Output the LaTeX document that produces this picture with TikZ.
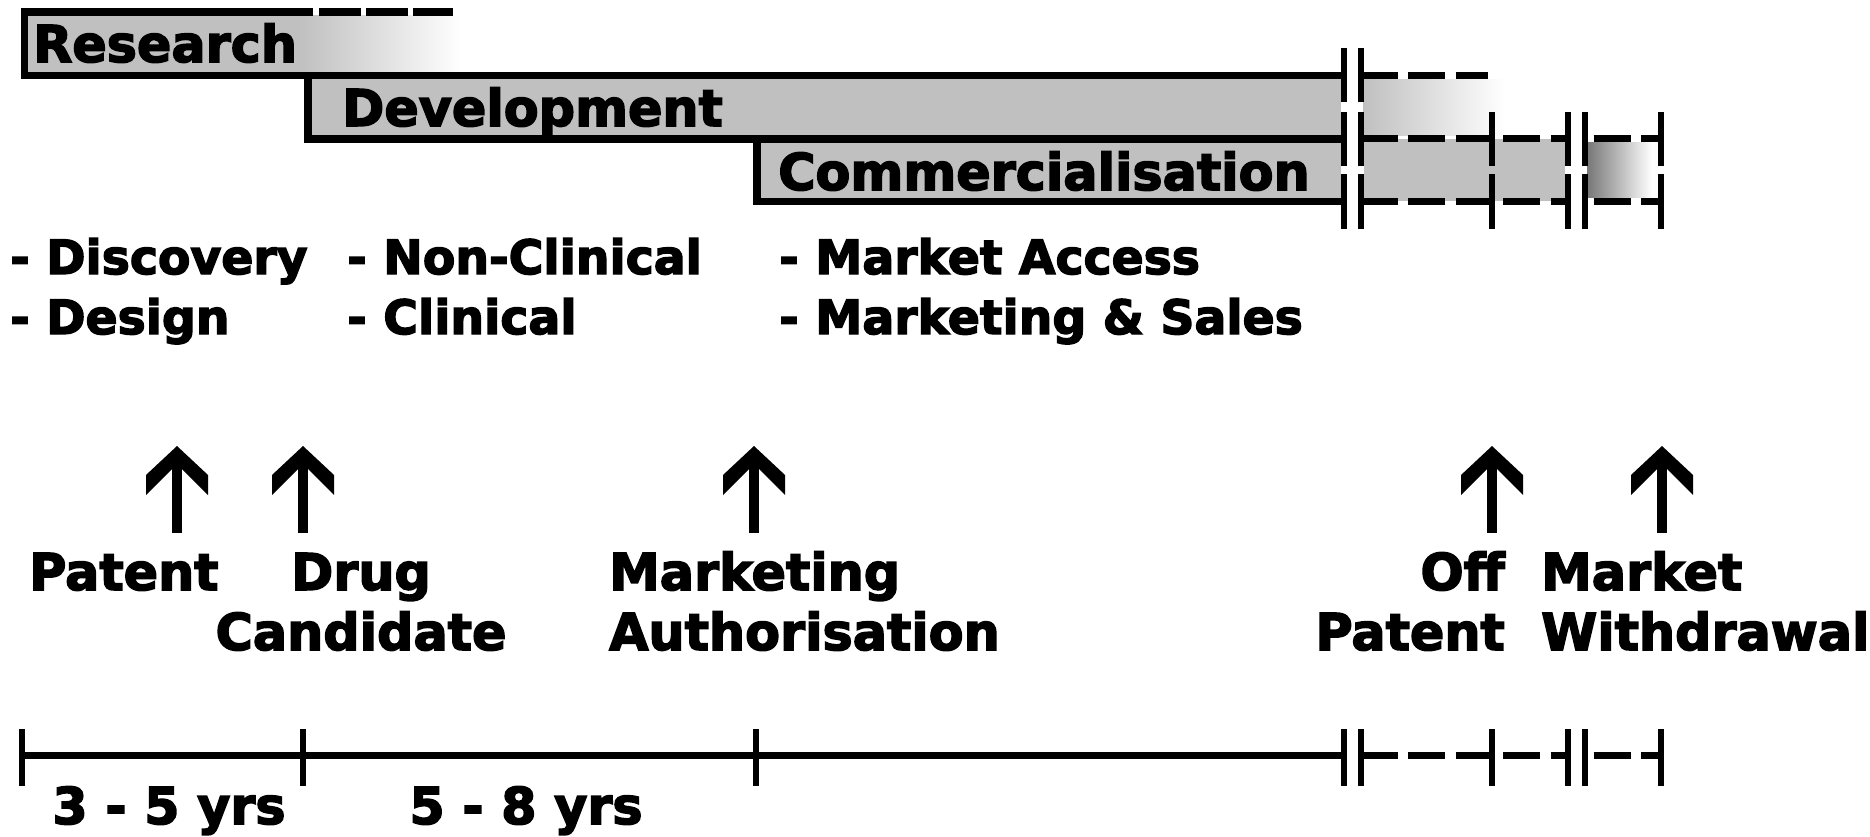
\documentclass[tikz,border=0pt]{standalone}
\usepackage{fontspec}
\setmainfont{DejaVu Sans}[BoldFeatures={FakeBold=3}]
\definecolor{phasegray}{RGB}{192,192,192}
\definecolor{fadegray}{RGB}{120,120,120}
\tikzset{
    label text/.style={inner sep=0pt, font=\bfseries\fontsize{50.8}{60}\selectfont},
    task text/.style={inner sep=0pt, align=left, font=\bfseries\fontsize{47.3}{60}\selectfont},
    phase line/.style={line width=7.5pt},
    break bar/.style={line width=6pt},
    time line/.style={line width=7pt},
    later/.style={line width=7pt, dash pattern=on 37pt off 10.5pt},
    milestone/.style={line width=10.5pt}
}

\begin{document}
\begin{tikzpicture}[x=1pt, y=-1pt]
    \useasboundingbox (0,0) rectangle (1870,837);

    % grey bars of the three phases
    \fill[phasegray] (24.5,12) rectangle (300,75.5);
    \shade[left color=phasegray, right color=white] (299.5,15.75) rectangle (462,71.75);
    \fill[phasegray] (308,75.5) rectangle (1341,139);
    \fill[phasegray] (757,139) rectangle (1341,201.5);
    \shade[left color=phasegray, right color=white] (1363.5,79.25) rectangle (1505,135.25);
    \fill[phasegray] (1363.5,139) rectangle (1565,201.5);
    \shade[left color=fadegray, right color=white] (1587.5,142.75) rectangle (1652,197.75);

    \node[label text, anchor=base west] (research) at (33,62) {Research};
    \node[label text, anchor=base west] (development) at (342,126) {Development};
    \node[label text, anchor=base west] (commercial) at (778,190) {Commercialisation};

    \draw[phase line] (313,12) -- (24.5,12) -- (24.5,75.5) -- (1344,75.5);
    \draw[phase line, dash pattern=on 42pt off 5pt] (319,12) -- (453,12);
    \draw[phase line] (308,75.5) -- (308,139) -- (1344,139);
    \draw[phase line] (757,139) -- (757,201.5) -- (1344,201.5);
    \draw[later] (1360.5,75.5) -- (1488,75.5);

    % activities (base = last line)
    \node[task text, anchor=base west] (res-tasks) at (10,334) {- Discovery\\- Design};
    \node[task text, anchor=base west] (dev-tasks) at (347,334) {- Non-Clinical\\- Clinical};
    \node[task text, anchor=base west] (com-tasks) at (779,334) {- Market Access\\- Marketing \& Sales};

    % milestones
    \coordinate (patent-tip) at (177,446);   \coordinate (patent-foot) at (177,533);
    \coordinate (drug-tip) at (303,446);     \coordinate (drug-foot) at (303,533);
    \coordinate (auth-tip) at (754,446);     \coordinate (auth-foot) at (754,533);
    \coordinate (off-tip) at (1492,446);     \coordinate (off-foot) at (1492,533);
    \coordinate (wd-tip) at (1662,446);      \coordinate (wd-foot) at (1662,533);
    \foreach \m in {patent,drug,auth,off,wd} {
        \draw[milestone] (\m-foot) -- ([yshift=-12pt]\m-tip);
        \fill (\m-tip) -- ++(31,29) -- ++(0,20) -- ++(-26,-26) -- ++(-10,0)
            -- ++(-26,26) -- ++(0,-20) -- cycle;
    }

    \node[label text, anchor=base west] (patent) at (29,590) {Patent};
    \node[label text, align=center, anchor=base] (candidate) at (361,650) {Drug\\Candidate};
    \node[label text, align=left, anchor=base west] (authorisation) at (609,650) {Marketing\\Authorisation};
    \node[label text, align=right, anchor=base east] (offpatent) at (1505,650) {Off\\Patent};
    \node[label text, align=left, anchor=base west] (withdrawal) at (1541,650) {Market\\Withdrawal};

    % time scale
    \draw[time line] (21.5,755) -- (1344,755);
    \foreach \y in {139,201.5,755} {
        \draw[later] (1360.5,\y) -- (1568,\y);
        \draw[later, dash phase=38.5pt] (1584.5,\y) -- (1661,\y);
    }
    \foreach \x in {21.5,303,756,1344,1360.5,1492,1568,1584.5,1661}
        \draw[break bar] (\x,729) -- (\x,786);
    \foreach \x in {1344,1360.5}
        \foreach \y in {75.5,139,201.5}
            \draw[break bar] (\x,\y-27) -- (\x,\y+27);
    \foreach \x in {1492,1568,1584.5,1661}
        \foreach \y in {139,201.5}
            \draw[break bar] (\x,\y-27) -- (\x,\y+27);

    \node[label text, anchor=base] (early) at (169,824) {3 - 5 yrs};
    \node[label text, anchor=base] (late) at (526,824) {5 - 8 yrs};
\end{tikzpicture}
\end{document}
